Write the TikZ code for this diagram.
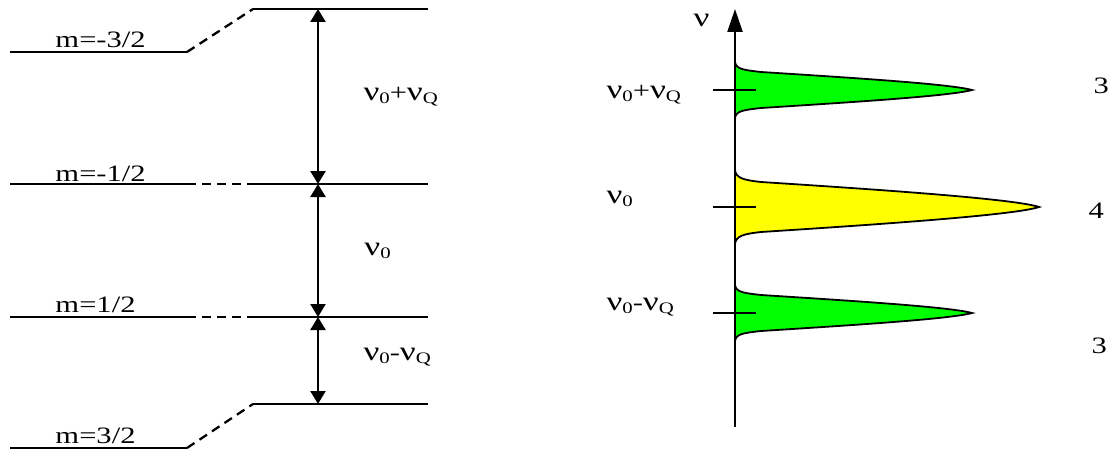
\documentclass[tikz,border=0pt]{standalone}
\usepackage{fontspec}
\setmainfont{Liberation Serif}
\usetikzlibrary{arrows.meta}
\newcommand\subx[1]{\raisebox{-3.5pt}{\fontsize{16}{16}\selectfont #1}}
\newcommand\nuu{{\fontsize{27}{27}\selectfont ν}}
\definecolor{pkgreen}{RGB}{0,255,0}
\definecolor{pkyellow}{RGB}{255,255,0}
\begin{document}
\begin{tikzpicture}[x=1pt,y=1pt,line width=2.3pt,
  dsh/.style={dash pattern=on 9pt off 6pt},
  lbl/.style={font=\fontsize{23.5}{27}\selectfont,inner sep=0pt,anchor=base west,xscale=1.3,transform shape},
  dbl/.style={{Triangle[length=13pt,width=15pt]}-{Triangle[length=13pt,width=15pt]}},
  axarrow/.style={-{Triangle[length=23pt,width=15pt]}},
  peakline/.style={draw=black,line width=1.8pt}]
\useasboundingbox (0,0) rectangle (1108,-452);
% ---------- energy levels ----------
\foreach \n/\ya/\yb in {a/52/9, b/184/184, c/317/317, d/448/404}{
  \coordinate (\n1) at (10,-\ya);
  \coordinate (\n2) at (187,-\ya);
  \coordinate (\n3) at (253,-\yb);
  \coordinate (\n4) at (428,-\yb);
  \draw (\n1) -- (\n2);
  \draw[dsh] (\n2) -- (\n3);
  \draw (\n3) -- (\n4);
}
\node[lbl] (la) at (54,-48) {m=-3/2};
\node[lbl] (lb) at (54,-181) {m=-1/2};
\node[lbl] (lc) at (54,-312) {m=1/2};
\node[lbl] (ld) at (54,-443) {m=3/2};
% transitions
\coordinate (t1) at (318,-9);
\coordinate (t2) at (318,-184);
\coordinate (t3) at (318,-317);
\coordinate (t4) at (318,-404);
\draw[dbl] (t1) -- (t2);
\draw[dbl] (t2) -- (t3);
\draw[dbl] (t3) -- (t4);
\node[lbl] (n1) at (362,-100) {\nuu\subx{0}+\nuu\subx{Q}};
\node[lbl] (n2) at (363,-255) {\nuu\subx{0}};
\node[lbl] (n3) at (362,-360) {\nuu\subx{0}-\nuu\subx{Q}};
% ---------- spectrum ----------
\begin{scope}[shift={(735,-90)}]
  \path[peakline,fill=pkgreen] (0,28) .. controls (1,21) and (8,20) .. (26,18)
    .. controls (120,12) and (215,6) .. (237,0)
    .. controls (215,-6) and (120,-12) .. (26,-18)
    .. controls (8,-20) and (1,-21) .. (0,-28) -- cycle;
\end{scope}
\begin{scope}[shift={(735,-207)}]
  \path[peakline,fill=pkyellow] (0,37) .. controls (1,29) and (8,27) .. (26,25)
    .. controls (150,17) and (280,8) .. (304,0)
    .. controls (280,-8) and (150,-17) .. (26,-25)
    .. controls (8,-27) and (1,-29) .. (0,-37) -- cycle;
\end{scope}
\begin{scope}[shift={(735,-313)}]
  \path[peakline,fill=pkgreen] (0,28) .. controls (1,21) and (8,20) .. (26,18)
    .. controls (120,12) and (215,6) .. (237,0)
    .. controls (215,-6) and (120,-12) .. (26,-18)
    .. controls (8,-20) and (1,-21) .. (0,-28) -- cycle;
\end{scope}
\coordinate (ax0) at (735,-427);
\coordinate (ax1) at (735,-9);
\draw[axarrow] (ax0) -- (ax1);
\node[lbl] (nu) at (692,-27) {\nuu};
% ticks
\foreach \n/\y in {p/90, q/207, r/313}{
  \coordinate (\n1) at (713,-\y);
  \coordinate (\n2) at (756,-\y);
  \draw (\n1) -- (\n2);
}
\node[lbl] (s1) at (605,-98) {\nuu\subx{0}+\nuu\subx{Q}};
\node[lbl] (s2) at (605,-203) {\nuu\subx{0}};
\node[lbl] (s3) at (605,-310) {\nuu\subx{0}-\nuu\subx{Q}};
\node[lbl] (w1) at (1092,-93) {3};
\node[lbl] (w2) at (1087,-218) {4};
\node[lbl] (w3) at (1090,-353) {3};
\end{tikzpicture}
\end{document}
